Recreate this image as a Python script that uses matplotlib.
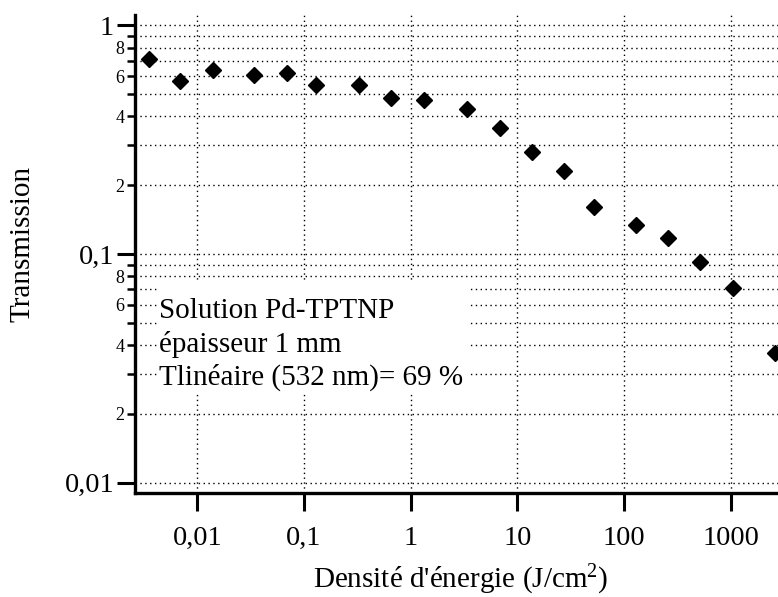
import matplotlib
matplotlib.use("Agg")
import matplotlib.pyplot as plt
from matplotlib.ticker import FixedLocator, FuncFormatter, NullLocator, LogLocator
from matplotlib.patches import Rectangle

# Energy density (J/cm^2) and measured transmission
energy_density = [0.0035, 0.0069, 0.014, 0.034, 0.069, 0.13, 0.33, 0.66, 1.34,
                  3.4, 6.9, 13.8, 27.5, 52, 130, 260, 520, 1045, 2620]
transmission = [0.71, 0.57, 0.64, 0.61, 0.62, 0.55, 0.55, 0.48, 0.47,
                0.43, 0.355, 0.28, 0.23, 0.16, 0.134, 0.118, 0.092, 0.071, 0.037]

x_ticks = [0.01, 0.1, 1, 10, 100, 1000]
x_tick_labels = ["0,01", "0,1", "1", "10", "100", "1000"]
y_ticks = [0.01, 0.1, 1]
y_tick_labels = ["0,01", "0,1", "1"]

info_lines = ["Solution Pd-TPTNP", "épaisseur 1 mm", "Tlinéaire (532 nm)= 69 %"]

plt.rcParams["font.family"] = ["Liberation Serif", "DejaVu Serif"]
plt.rcParams["mathtext.fontset"] = "custom"
plt.rcParams["mathtext.rm"] = "Liberation Serif"
plt.rcParams["mathtext.it"] = "Liberation Serif:italic"

fig = plt.figure(figsize=(7.78, 5.97), dpi=100)
ax = fig.add_axes([135 / 778, (597 - 493) / 597, (778 - 135) / 778, (493 - 15) / 597])

ax.set_xscale("log")
ax.set_yscale("log")
ax.set_xlim(0.002606, 2781)
ax.set_ylim(0.00901, 1.111)

ax.plot(energy_density, transmission, linestyle="none", marker="D",
        markersize=8.5, color="black", zorder=4, clip_on=False)

# ticks
ax.xaxis.set_major_locator(FixedLocator(x_ticks))
ax.xaxis.set_major_formatter(FuncFormatter(lambda v, p: x_tick_labels[x_ticks.index(v)] if v in x_ticks else ""))
ax.xaxis.set_minor_locator(NullLocator())

ax.yaxis.set_major_locator(FixedLocator(y_ticks))
ax.yaxis.set_major_formatter(FuncFormatter(lambda v, p: y_tick_labels[min(range(3), key=lambda i: abs(y_ticks[i] - v))]))
ax.yaxis.set_minor_locator(LogLocator(base=10, subs=[2, 3, 4, 5, 6, 7, 8, 9]))


def minor_label(v, pos):
    mant = v / 10 ** round(__import__("math").floor(__import__("math").log10(v) + 1e-9))
    m = int(round(mant))
    return str(m) if m in (2, 4, 6, 8) else ""


ax.yaxis.set_minor_formatter(FuncFormatter(minor_label))

ax.tick_params(axis="x", which="major", direction="out", length=13, width=2.2,
               labelsize=20.5, pad=10.5)
ax.tick_params(axis="y", which="major", direction="out", length=13, width=2.2,
               labelsize=20.5, pad=2)
ax.tick_params(axis="y", which="minor", direction="out", length=6, width=1.8,
               labelsize=13, pad=1.5)

for side in ("top", "right"):
    ax.spines[side].set_visible(False)
for side in ("left", "bottom"):
    ax.spines[side].set_linewidth(2.4)

# dotted grid
ax.set_axisbelow(True)
grid_style = dict(color="black", linestyle=(0, (1, 2.5)), linewidth=1.0)
ax.grid(True, which="both", axis="y", **grid_style)
ax.grid(True, which="major", axis="x", **grid_style)

# annotation panel with white background
ax.add_patch(Rectangle((0.0342, 0.2113), 0.4852, 0.228, transform=ax.transAxes,
                       facecolor="white", edgecolor="none", zorder=1.5))
for text, y in zip(info_lines, [0.3661, 0.2950, 0.2259]):
    ax.text(0.0373, y, text, transform=ax.transAxes, fontsize=21,
            ha="left", va="baseline", zorder=3)

ax.set_xlabel("Densité d'énergie (J/cm$^{2}$)", fontsize=21)
ax.xaxis.set_label_coords(0.507, -0.1987)
ax.xaxis.label.set_va("baseline")

ax.set_ylabel("Transmission", fontsize=21)
ax.yaxis.set_label_coords(-0.175, 0.521)
ax.yaxis.label.set_va("center")

fig.savefig("out.png", dpi=100)
